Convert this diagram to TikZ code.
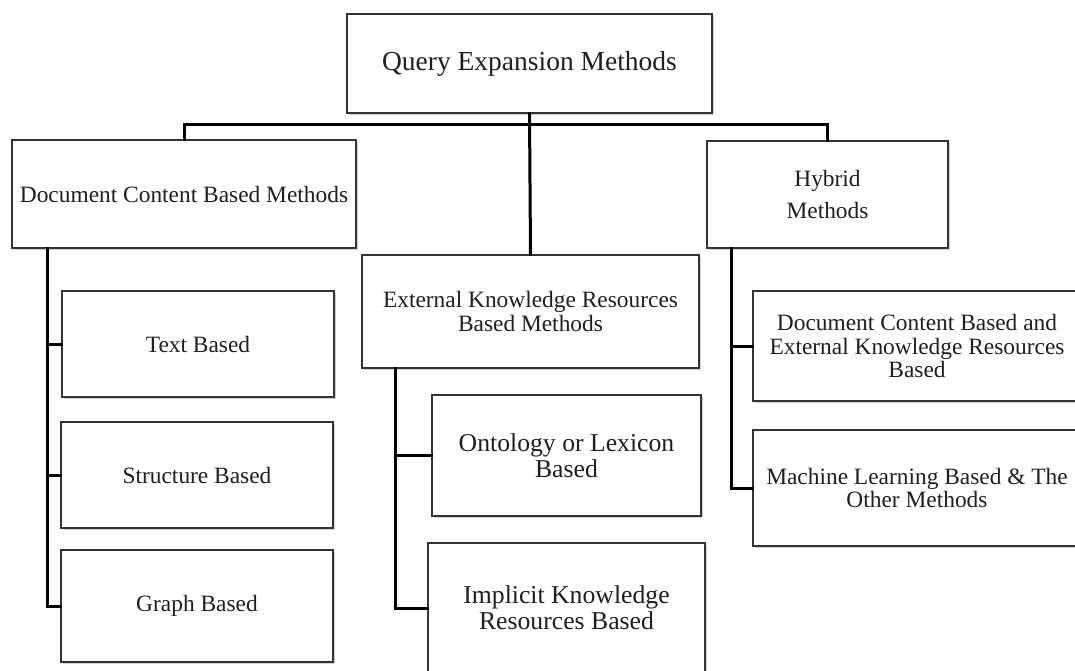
\documentclass[tikz,border=0pt]{standalone}
\usepackage{fontspec}
\setmainfont{Liberation Serif}
\usetikzlibrary{calc,shadows}

% font sizes used in the boxes
\newcommand\fsRoot{\fontsize{27.5}{28}\selectfont}
\newcommand\fsBox{\fontsize{23.4}{23.5}\selectfont}
\newcommand\fsBig{\fontsize{25.7}{26}\selectfont}

\begin{document}
\begin{tikzpicture}[x=1pt,y=-1pt,
  box/.style={draw=black!80, line width=1.9pt, fill=white, align=center,
    inner sep=0pt, text=black!88,
    drop shadow={shadow xshift=1.8pt, shadow yshift=-2pt, opacity=0.35}},
  link/.style={draw=black, line width=3pt, line cap=rect, line join=miter}]
\useasboundingbox (0,0) rectangle (1075,670);
\clip (0,0) rectangle (1075,670);
\fill[white] (0,0) rectangle (1075,670);

% top level
\node[box, minimum width=365, minimum height=99, font=\fsRoot] (root) at (529.5,63.5) {Query Expansion Methods};

% second level
\node[box, minimum width=344, minimum height=108, font=\fsBox] (dcbm) at (184,194) {Document Content Based Methods};
\node[box, minimum width=337, minimum height=113, font=\fsBox] (ext) at (530.5,311.5) {External Knowledge Resources\\Based Methods};
\node[box, minimum width=241, minimum height=107, font=\fsBox] (hyb) at (827.5,194.5) {Hybrid\\[9pt]Methods};

% document content based branch
\node[box, minimum width=272, minimum height=106, font=\fsBox] (text) at (198,344) {Text Based};
\node[box, minimum width=272, minimum height=106, font=\fsBox] (struct) at (197,475) {Structure Based};
\node[box, minimum width=272, minimum height=112, font=\fsBox] (graph) at (197,606) {Graph Based};

% external knowledge branch
\node[box, minimum width=269, minimum height=121, font=\fsBig] (onto) at (566.5,455.5) {Ontology or Lexicon\\Based};
\node[box, minimum width=277, minimum height=130, font=\fsBig] (impl) at (566.5,608) {Implicit Knowledge\\Resources Based};

% hybrid branch
\node[box, minimum width=328, minimum height=110, font=\fsBox] (dcbe) at (917,346) {Document Content Based and\\External Knowledge Resources\\Based};
\node[box, minimum width=328, minimum height=116, font=\fsBox] (ml) at (917,488) {Machine Learning Based \& The\\Other Methods};

% connectors from the root
\coordinate (bus) at (530,124);
\draw[link] (dcbm.north) |- (bus) -| (hyb.north);
\draw[link] (root.south) -- (ext.north);

% trunks of the three branches
\coordinate (dt) at ($(dcbm.south west)+(36,0)$);
\coordinate (et) at ($(ext.south west)+(34,0)$);
\coordinate (ht) at ($(hyb.south west)+(25,0)$);

\draw[link] (dt) |- (graph.west);
\draw[link] (text.west) -- (text.west -| dt);
\draw[link] (struct.west) -- (struct.west -| dt);

\draw[link] (et) |- (impl.west);
\draw[link] (onto.west) -- (onto.west -| et);

\draw[link] (ht) |- (ml.west);
\draw[link] (dcbe.west) -- (dcbe.west -| ht);
\end{tikzpicture}
\end{document}
